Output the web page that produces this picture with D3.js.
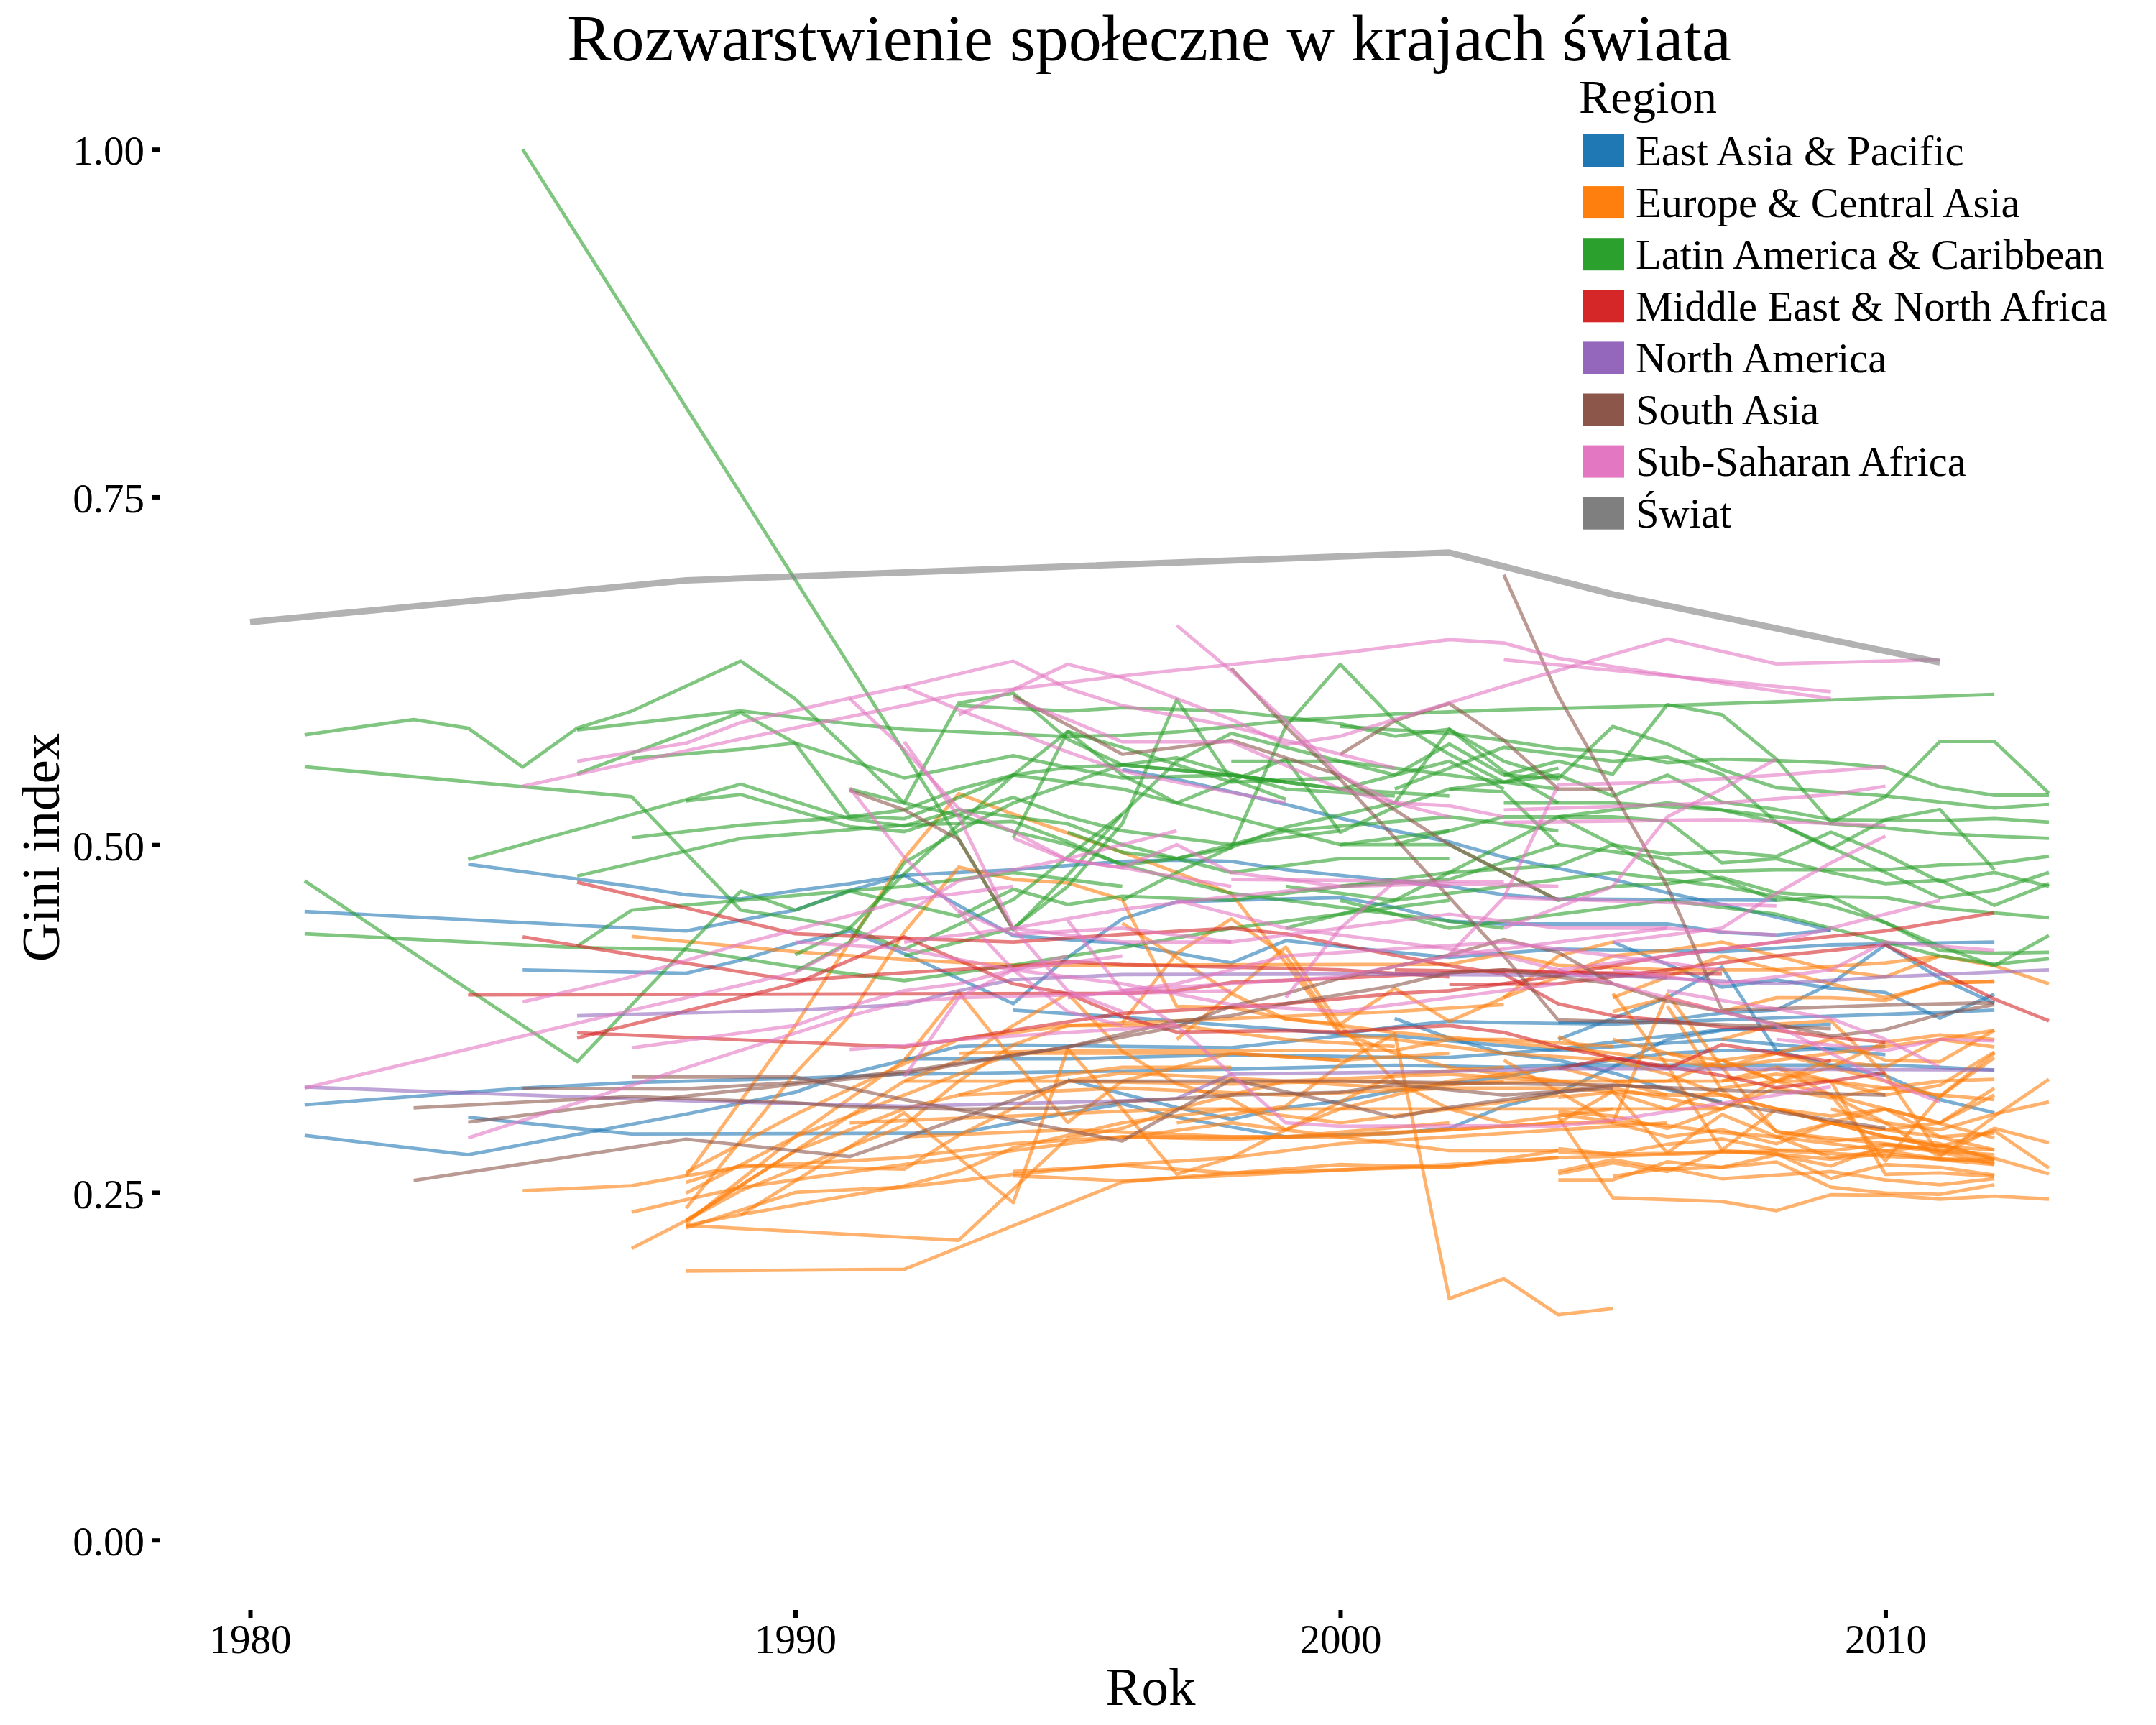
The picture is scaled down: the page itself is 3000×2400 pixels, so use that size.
<!DOCTYPE html>
<html><head><meta charset="utf-8">
<script src="https://cdnjs.cloudflare.com/ajax/libs/d3/7.8.5/d3.min.js"></script>
<style>html,body{margin:0;padding:0;background:#fff}svg{display:block}text{font-family:"Liberation Serif",serif;fill:#000}</style>
</head><body><svg id="c" width="3000" height="2400"></svg>
<script>
const regionNames=["East Asia & Pacific","Europe & Central Asia","Latin America & Caribbean","Middle East & North Africa","North America","South Asia","Sub-Saharan Africa","Świat"];
const regionColors=["#1f77b4","#ff7f0e","#2ca02c","#d62728","#9467bd","#8c564b","#e377c2","#7f7f7f"];
const xTicks=[1980,1990,2000,2010];
const yTicks=[0,.25,.5,.75,1];
// each series: year, value, year, value ...
const eastAsia=[
[1984,.486,1987,.47,1988,.464,1989,.461,1990,.467,1991,.472,1992,.478,1993,.48,1994,.482,1995,.485,1996,.488,1997,.489,1998,.488,1999,.482,2000,.478,2001,.474,2002,.47,2003,.464,2004,.461,2008,.46],
[1981,.452,1988,.438,1989,.4457,1990,.453,1991,.467,1992,.478,1994,.4346,1996,.429,1998,.415,1999,.431,2001,.4226,2002,.419,2004,.425,2007,.423,2009,.428,2012,.43],
[1985,.41,1988,.4075,1989,.417,1990,.429,1991,.438,1992,.4217,1994,.3857,1995,.419,1996,.4466,1997,.459,1998,.46,1999,.461,2000,.462,2001,.455,2002,.445,2003,.443,2006,.443,2007,.437,2008,.435,2009,.4385],
[1994,.381,1996,.376,1997,.373,1999,.367,2000,.364,2001,.369,2002,.373,2003,.372,2005,.371,2008,.3755,2010,.378,2012,.381],
[1981,.291,1984,.277,1988,.3063,1990,.322,1991,.3356,1992,.345,1993,.355,1994,.356,1996,.355,1998,.354,2000,.3626,2001,.3626,2004,.352,2007,.36,2010,.349],
[1981,.313,1985,.325,1987,.329,1990,.332,1992,.335,1995,.3367,1998,.3386,2001,.3414,2003,.34,2004,.3415,2010,.3415,2011,.34,2012,.338],
[1992,.346,1995,.346,1998,.349,2001,.347,2002,.347,2004,.353,2005,.358,2007,.367,2008,.369],
[1984,.304,1987,.292,1993,.2926,1994,.30,1995,.307,1996,.3137,1997,.304,1998,.297,1999,.29,2001,.2925,2002,.296,2003,.312,2004,.322,2005,.34,2006,.36,2007,.3666,2009,.371],
[1995,.331,1996,.321,1997,.311,1998,.3026,1999,.311,2000,.3155,2001,.323,2002,.3284,2003,.333,2004,.34,2005,.345,2006,.35,2007,.352,2008,.352,2010,.355],
[2001,.375,2002,.361,2003,.35,2004,.345,2005,.336,2006,.324,2007,.315],
[2004,.36,2005,.375,2006,.39,2007,.412,2008,.352,2009,.341,2010,.334,2011,.3167,2012,.3072],
[2004,.372,2006,.374,2007,.379,2008,.381,2009,.40,2010,.428,2011,.404,2012,.386],
[2005,.43,2006,.414,2007,.3976,2008,.4028,2009,.3968,2010,.3937,2011,.3753,2012,.3925],
[1996,.554,1997,.547,1999,.529,2000,.519,2001,.51,2002,.502,2003,.491,2004,.483,2005,.475,2006,.4654,2007,.457,2008,.448,2009,.4385]
];
const europe=[
[1988,.1935,1992,.1947,1996,.2574,1998,.264,2002,.2685,2004,.275,2005,.276,2008,.28,2012,.272],
[1988,.2262,1993,.2156,1995,.289,1996,.296,1997,.31,1999,.33,2001,.325,2003,.33],
[1988,.2262,1989,.234,1992,.2547,1993,.265,1994,.282,1996,.30,1998,.31,2000,.30,2002,.31,2004,.32],
[1988,.2245,1990,.25,1992,.2538,1994,.263,1996,.27,1998,.275,2000,.285,2002,.29,2004,.295,2006,.30],
[1989,.2337,1992,.3072,1994,.2426,1995,.353,1996,.31,1997,.263,1998,.275,1999,.295,2000,.315,2001,.335,2003,.34],
[1988,.2297,1989,.2512,1992,.298,1993,.33,1994,.356,1995,.37,1997,.37,1999,.36,2001,.355],
[1988,.2495,1990,.29,1992,.32,1994,.35,1996,.35,1998,.35,2000,.345,2002,.35],
[1988,.2572,1989,.2693,1992,.2667,1993,.291,1995,.33,1996,.336,1999,.33,2002,.335,2004,.33],
[1988,.2642,1990,.306,1992,.3425,1993,.36,1995,.37,1998,.375,2001,.38,2003,.385],
[1985,.2512,1987,.2548,1988,.2619,1989,.2684,1992,.275,1994,.285,1996,.29,1998,.288,2002,.295,2004,.30],
[1987,.2358,1988,.2447,1989,.2535,1992,.27,1994,.28,1996,.29,1999,.29,2002,.30],
[1987,.2097,1988,.2297,1990,.28,1992,.31,1994,.33,1996,.34,1998,.34],
[1988,.2616,1990,.37,1992,.49,1993,.5367,1994,.522,1995,.5083,1996,.4945,1997,.48,1998,.4648,1999,.415,2000,.3635,2001,.36,2003,.35,2005,.345],
[1988,.2387,1990,.3356,1991,.377,1992,.437,1993,.4839,1994,.475,1995,.4725,1996,.4605,1997,.3838,1998,.383,1999,.375,2000,.37,2001,.365,2003,.358,2005,.35],
[1987,.434,1990,.423,1992,.4174,1994,.4134,2002,.414,2003,.4216,2004,.4133,2006,.41,2008,.41,2010,.415,2011,.42,2012,.413,2013,.40],
[1988,.228,1990,.29,1992,.345,1993,.394,1994,.345,1995,.3003,1996,.33,1997,.34,1998,.35,2000,.345],
[1988,.23,1990,.28,1992,.33,1993,.345,1994,.37,1995,.393,1996,.3515,1997,.328,1998,.317,1999,.295,2000,.31,2002,.33,2004,.34],
[1996,.4435,1997,.419,1998,.393,1999,.3746,2000,.371,2001,.3967,2002,.373,2003,.39,2004,.42,2005,.43],
[1996,.372,1997,.422,1998,.4466,1999,.42,2000,.3653,2001,.35,2002,.34,2004,.33],
[1997,.36,1998,.393,1999,.4263,2000,.37,2001,.33,2002,.31,2003,.30,2005,.31],
[1997,.30,1999,.312,2000,.342,2001,.364,2002,.1736,2003,.188,2004,.162,2005,.1664],
[1993,.35,1995,.352,1998,.352,2001,.352,2002,.36,2003,.36,2005,.355],
[1992,.33,1995,.33,1998,.328,2000,.33,2002,.328,2004,.33,2006,.33],
[1993,.32,1996,.325,1999,.32,2002,.325,2004,.325,2006,.32],
[1991,.30,1994,.305,1997,.31,2000,.31,2003,.31,2005,.31,2007,.31],
[1992,.29,1995,.295,1998,.29,2000,.29,2002,.295,2004,.30,2005,.30],
[1996,.289,1998,.30,2000,.29,2002,.28,2003,.28,2004,.28],
[1994,.265,1996,.2694,1998,.2638,2000,.27,2002,.268,2004,.28],
[1994,.262,1996,.2583,2002,.27,2004,.275],
[2003,.39,2005,.42,2006,.424,2007,.43,2008,.42,2009,.41,2010,.405,2011,.42],
[2005,.39,2007,.42,2009,.40,2010,.39,2011,.40,2012,.402],
[2004,.362,2005,.345,2006,.335,2007,.32,2008,.31,2009,.30,2010,.29,2011,.285,2012,.2736],
[2004,.3184,2005,.322,2006,.3097,2007,.325,2008,.33,2009,.345,2010,.34,2011,.36,2012,.3666],
[2004,.308,2005,.305,2006,.296,2007,.31,2008,.33,2009,.32,2010,.31,2011,.29,2012,.2805],
[2004,.306,2005,.301,2006,.298,2007,.293,2008,.29,2009,.285,2010,.28,2011,.274,2012,.2736],
[2004,.2814,2005,.2775,2006,.2846,2007,.2885,2008,.2805,2009,.28,2010,.2845,2011,.2805,2012,.2736],
[2004,.2788,2005,.2775,2006,.278,2007,.2795,2008,.2775,2009,.2738,2010,.278,2011,.2736,2012,.27],
[2004,.265,2005,.2736,2006,.2667,2007,.268,2008,.277,2009,.269,2010,.284,2011,.279,2012,.2702],
[2004,.2633,2005,.2712,2006,.265,2007,.28,2008,.278,2009,.26,2010,.27,2011,.268,2012,.2625],
[2004,.259,2005,.259,2006,.272,2007,.268,2008,.2719,2009,.2538,2010,.2495,2011,.2486,2012,.2555],
[2005,.2615,2006,.2675,2007,.2598,2008,.2624,2009,.265,2010,.259,2011,.2555,2012,.2598],
[2004,.304,2005,.2461,2007,.2435,2008,.2369,2009,.2483,2010,.248,2011,.2452,2012,.2473,2013,.2452],
[2004,.30,2005,.3227,2006,.2785,2007,.306,2008,.29,2009,.30,2010,.31,2011,.30,2012,.32],
[2005,.30,2006,.3925,2007,.34,2008,.2934,2009,.289,2010,.285,2011,.28,2012,.277],
[2007,.36,2008,.371,2009,.3735,2010,.335,2011,.277,2012,.296,2013,.2857],
[2008,.34,2009,.32,2010,.2727,2011,.319,2012,.35],
[2005,.393,2006,.341,2007,.2805,2008,.31,2009,.30,2010,.295,2011,.30,2012,.3249],
[2006,.384,2007,.3236,2008,.294,2009,.287,2010,.29,2011,.283,2012,.2805],
[2007,.345,2008,.33,2009,.33,2010,.263,2011,.264,2012,.2616],
[2009,.31,2010,.30,2011,.2755,2012,.3047,2013,.3313],
[2009,.32,2010,.30,2011,.295,2012,.3063,2013,.315],
[2008,.31,2009,.30,2010,.29,2011,.283,2012,.2943,2013,.2676],
[2008,.29,2009,.275,2010,.28,2011,.284,2012,.2745,2013,.2633],
[2007,.33,2008,.34,2009,.33,2010,.32,2011,.327,2012,.351],
[2006,.35,2007,.34,2008,.35,2009,.36,2010,.345,2011,.344,2012,.3666],
[2006,.33,2007,.345,2008,.33,2009,.34,2010,.33,2011,.319,2012,.3468],
[2005,.36,2006,.35,2007,.345,2008,.35,2009,.34,2010,.358,2011,.3632,2012,.36],
[2005,.35,2006,.345,2007,.34,2008,.345,2009,.35,2010,.355,2011,.36,2012,.3546],
[2005,.38,2006,.39,2007,.38,2008,.39,2009,.39,2010,.388,2011,.401,2012,.4014],
[2005,.33,2007,.33,2008,.335,2009,.33,2010,.325,2011,.33,2012,.3313],
[2004,.33,2005,.325,2007,.31,2008,.325,2009,.318,2010,.325,2011,.32,2012,.3167],
[2004,.34,2005,.33,2006,.32,2007,.32,2008,.31,2009,.305,2010,.31,2012,.2891],
[2003,.345,2005,.30,2006,.29,2007,.295,2008,.285,2009,.30,2010,.295,2011,.29,2012,.2926]
];
const latin=[
[1981,.579,1983,.59,1984,.5838,1985,.5558,1986,.5838,1987,.596,1989,.632,1990,.6048,1992,.53,1993,.6017,1994,.609,1995,.5758,1996,.5574,1998,.55,1999,.545],
[1993,.60,1995,.596,1996,.5985,1998,.596,2000,.587,2001,.578,2002,.583,2003,.56,2004,.548],
[1986,.5825,1989,.5962,1991,.5869,1992,.583,1994,.5795,1995,.5777,1996,.5786,1997,.581,1999,.589,2001,.594,2003,.597,2006,.60,2012,.608],
[1986,.551,1989,.595,1990,.573,1991,.5204,1992,.5186,1993,.534,1994,.55,1995,.5555,1996,.5574,1998,.55,2000,.54,2002,.535],
[1987,.562,1989,.5685,1990,.573,1992,.548,1994,.564,1995,.5555,1996,.548,1998,.55,2000,.54,2002,.56,2003,.54],
[1984,.4894,1988,.5324,1989,.5435,1991,.5186,1992,.5135,1993,.525,1995,.515,1996,.50,1998,.48,2000,.49,2002,.49],
[1988,.5315,1989,.536,1991,.513,1992,.5094,1994,.534,1995,.52,1996,.51,1998,.50,2000,.51],
[1987,.505,1989,.514,1991,.52,1992,.525,1993,.54,1994,.55,1995,.545,1996,.54,1998,.52,2000,.50,2002,.51],
[1986,.4775,1989,.5045,1992,.514,1994,.5167,1995,.502,1996,.4854,1997,.49,1998,.50,1999,.51,2002,.52,2004,.51],
[1981,.556,1987,.5345,1989,.453,1990,.447,1991,.44,1992,.4248,1994,.4605,1996,.522,1997,.56,1998,.58,2000,.56,2002,.55,2004,.54],
[1981,.474,1986,.344,1989,.4666,1990,.453,1991,.4665,1992,.4577,1993,.4485,1994,.468,1995,.457,1996,.463,1998,.46,2000,.47,2002,.48],
[1981,.436,1986,.426,1988,.4247,1990,.412,1992,.4023,1994,.4134,1996,.426,1998,.44,2000,.45,2002,.46],
[1990,.4208,1991,.44,1992,.479,1994,.55,1995,.5813,1996,.57,1998,.545,2000,.548],
[1990,.4088,1991,.43,1992,.487,1993,.51,1994,.53,1996,.5574,1997,.5625,1999,.54,2001,.535],
[1986,.427,1987,.453,1989,.46,1991,.467,1992,.47,1994,.48,1996,.47],
[1991,.54,1992,.53,1993,.521,1994,.5094,1995,.50,1996,.486,1997,.475,1998,.465,1999,.46,2001,.45,2003,.44],
[1992,.42,1994,.44,1995,.47,1996,.515,1997,.6043,1998,.547,1999,.5326],
[1996,.46,1997,.48,1998,.498,1999,.585,2000,.6297,2001,.589,2002,.565,2003,.545,2004,.555],
[1994,.505,1995,.5815,1996,.55,1997,.53,1999,.5616,2000,.509,2001,.527,2002,.54,2003,.538,2004,.50],
[1995,.509,1996,.4945,1997,.49,1998,.498,1999,.5126,2001,.53,2002,.583,2003,.5525,2004,.53],
[1998,.56,2000,.56,2001,.55,2002,.5724,2003,.55,2004,.5475,2005,.585,2006,.5724,2007,.554,2008,.541,2010,.535,2011,.5307,2012,.5264,2013,.529],
[2003,.55,2004,.56,2005,.5507,2006,.6007,2007,.5935,2008,.5615,2009,.516,2010,.5344,2011,.5742,2012,.5742,2013,.537],
[2000,.585,2002,.58,2003,.575,2004,.569,2005,.567,2006,.559,2007,.5615,2008,.5605,2009,.559,2010,.5554,2011,.5416,2012,.5355,2013,.5355],
[2001,.54,2003,.57,2005,.56,2006,.563,2007,.5507,2008,.516,2009,.498,2010,.48,2011,.4618,2012,.4673,2013,.48],
[2002,.54,2004,.55,2005,.535,2006,.55,2007,.5307,2008,.5253,2009,.518,2011,.5173,2012,.5188,2013,.5162],
[2004,.52,2006,.53,2007,.525,2008,.516,2009,.497,2010,.518,2011,.5253,2012,.482],
[2003,.53,2005,.53,2007,.525,2009,.515,2010,.512,2011,.508,2012,.506,2013,.5046],
[1999,.47,2001,.46,2003,.50,2004,.52,2006,.48,2008,.482,2010,.482,2011,.4854,2012,.4865,2013,.4916],
[2002,.48,2004,.485,2005,.50,2006,.493,2007,.495,2008,.4916,2009,.509,2010,.493,2011,.4735,2012,.48,2013,.47],
[2001,.50,2003,.52,2005,.52,2006,.517,2007,.487,2008,.49,2009,.48,2010,.472,2011,.4745,2012,.4564,2013,.472],
[2000,.50,2002,.50,2004,.46,2005,.47,2006,.472,2007,.4764,2008,.4655,2009,.4626,2010,.462,2011,.4546,2012,.451,2013,.4474],
[2000,.47,2002,.475,2004,.50,2006,.49,2008,.46,2009,.4626,2010,.444,2011,.427,2012,.413,2013,.4347],
[1999,.44,2001,.46,2003,.47,2005,.48,2007,.47,2009,.456,2010,.444,2011,.4238,2012,.422,2013,.4227],
[2000,.46,2002,.44,2004,.45,2006,.46,2008,.45,2010,.43,2011,.42,2012,.414,2013,.418],
[1985,1,1992,.5666,1993,.5038,1994,.439,1995,.478,1996,.522]
];
const mena=[
[1984,.392,1995,.393,1996,.393,1997,.395,1998,.401,2000,.404,2003,.41,2006,.405],
[1985,.4337,1987,.421,1990,.4023,1992,.4079,1994,.4125,1995,.416,1996,.4138,1998,.412,2000,.41,2002,.405],
[1986,.473,1990,.436,1992,.4328,1994,.43,1995,.4328,1996,.4355,1998,.44,1999,.436,2000,.428,2002,.413,2003,.407,2004,.3856,2005,.377,2006,.3735,2007,.369,2008,.3666,2009,.3615,2010,.358],
[1986,.361,1990,.40,1992,.4337,1994,.40,1995,.393,1996,.3764,1997,.3653,1999,.3663,2000,.3653,2001,.368,2002,.37,2003,.365,2004,.3546,2005,.3468,2006,.339,2007,.3563,2008,.35,2009,.3442],
[1986,.3648,1992,.3546,1993,.36,1994,.3666,1996,.3787,1998,.383,1999,.3857,2001,.393,2002,.395,2003,.40,2004,.406,2006,.42,2008,.43,2010,.438,2012,.451],
[2002,.3995,2004,.40,2006,.41,2008,.42,2010,.428,2012,.389,2013,.3734],
[2001,.41,2004,.408,2007,.407],
[2004,.339,2005,.3468,2007,.334,2008,.3253,2009,.33,2010,.336]
];
const northAmerica=[
[1981,.3257,1988,.3159,1992,.3119,1996,.3158,1997,.3174,1998,.335,2002,.337,2004,.339,2012,.338],
[1986,.377,1990,.381,1992,.385,1993,.395,1994,.403,1996,.4066,2000,.407,2005,.406,2008,.40,2010,.405,2013,.41]
];
const southAsia=[
[1983,.2586,1988,.2883,1991,.2757,1995,.33,1996,.33,2000,.33,2005,.327,2007,.3236,2009,.321,2010,.32],
[1983,.3108,1987,.3189,1990,.3144,1991,.3115,1993,.3098,1995,.3106,1996,.3153,1997,.3174,1998,.32,2000,.322,2001,.3275,2003,.32,2005,.325],
[1987,.333,1990,.333,1992,.3167,1994,.302,1996,.287,1998,.331,2000,.3137,2001,.304,2002,.311,2004,.322,2005,.327,2006,.325,2007,.314,2008,.308,2009,.302,2010,.296],
[1984,.3005,1987,.315,1990,.3277,1992,.3356,1995,.3546,1996,.3616,1997,.369,1998,.384,1999,.393,2000,.404,2001,.4124,2002,.4207,2003,.4318,2004,.4226,2005,.40,2006,.3875,2007,.38,2008,.371,2009,.3625,2010,.367,2011,.378,2012,.385],
[1985,.3248,1988,.3244,1990,.329,1992,.337,1995,.3546,1997,.373,1998,.377,1999,.3857,2001,.3986,2002,.408,2003,.41,2004,.405,2005,.40],
[1998,.6268,1999,.585,2000,.547,2001,.505,2002,.462,2003,.42,2004,.3739,2006,.372,2009,.3678],
[2003,.694,2004,.607,2005,.538,2006,.47,2007,.3813,2008,.3821,2010,.3847,2012,.3864],
[1991,.539,1992,.525,1993,.5038,1994,.439],
[1994,.607,1996,.565,1998,.575,2000,.55,2002,.50,2004,.46],
[2000,.565,2001,.589,2002,.6015,2003,.575,2004,.54,2005,.54]
];
const africa=[
[1981,.325,1987,.381,1990,.408,1992,.45,1993,.474,1995,.49,1997,.51],
[1985,.387,1987,.405,1989,.4286,1991,.449,1992,.46,1994,.47],
[1984,.2892,1988,.3396,1991,.377,1992,.387,1993,.39,1995,.392,1998,.395],
[1987,.3539,1990,.37,1991,.384,1992,.395,1993,.40,1994,.41,1996,.42],
[1991,.3528,1992,.3557,1993,.36,1995,.365,1997,.37],
[1992,.333,1993,.39,1994,.41,1995,.42],
[1986,.56,1988,.573,1989,.5878,1991,.6053,1992,.6136,1994,.632,1995,.6123,1996,.60,1998,.585,2000,.565,2001,.555],
[1985,.542,1989,.576,1992,.60,1993,.608,1994,.6118,1996,.6214,2000,.6377,2002,.6475,2003,.645,2004,.634,2007,.616,2009,.605],
[2003,.633,2009,.61],
[1993,.5934,1995,.6297,1996,.62,1998,.59,1999,.572,2000,.578,2003,.614,2006,.648,2008,.63,2011,.633],
[1997,.6576,1998,.625,1999,.589,2000,.55,2001,.53,2002,.528,2003,.52],
[1992,.6136,1993,.597,1995,.5666,1996,.553,1997,.545,1999,.53],
[1991,.605,1992,.5684,1993,.526,1994,.5094,1995,.489,1996,.4835,1998,.47],
[1992,.574,1993,.52,1994,.44,1995,.395,1996,.38],
[1991,.5408,1992,.491,1993,.452,1994,.41,1995,.38,1996,.37],
[1994,.6044,1995,.59,1996,.574,1998,.574,2000,.54,2002,.52],
[1994,.5047,1995,.489,1996,.4835,1997,.50,1998,.48,2000,.47],
[1993,.4525,1994,.4355,1996,.44,1998,.43],
[1998,.475,2003,.4733],
[2002,.421,2003,.462,2004,.543,2006,.545,2008,.55,2010,.556],
[2003,.525,2007,.53,2009,.536,2010,.542],
[2003,.516,2007,.518,2010,.5137],
[2003,.44,2005,.47,2006,.52,2007,.54,2008,.5615],
[2005,.43,2007,.44,2008,.465,2009,.487,2010,.5061],
[2004,.41,2006,.42,2008,.43,2009,.44,2010,.45,2011,.46],
[2003,.462,2008,.456],
[2005,.41,2007,.40,2009,.41,2010,.43,2012,.424],
[2006,.395,2007,.388,2008,.382,2009,.375,2010,.36,2011,.34],
[2005,.40,2007,.38,2008,.37,2009,.35,2010,.33,2011,.315],
[2008,.36,2010,.352,2011,.36,2012,.359],
[1995,.4456,1996,.395,1997,.37,1998,.335,1999,.30,2000,.2976,2003,.298,2004,.2977,2005,.302,2006,.308,2007,.314,2008,.32,2009,.326],
[1999,.39,2000,.44,2001,.4733,2002,.47],
[1992,.43,1994,.44,1996,.4535,1998,.463,2000,.47,2002,.472,2004,.47],
[1997,.46,1999,.44,2001,.43,2003,.42,2005,.40],
[1994,.44,1996,.43,1998,.43,2000,.44,2002,.45,2004,.44,2006,.44],
[1996,.395,1998,.40,2000,.405,2002,.42,2004,.43,2006,.44,2008,.435],
[1990,.43,1992,.425,1994,.41,1996,.40,1998,.385,2000,.38,2002,.39,2004,.40],
[1995,.39,1997,.40,1999,.42,2001,.425,2003,.43,2005,.42,2007,.41]
];
const world=[[1980,.66,1988,.69,2002,.71,2005,.68,2011,.631]];
const regionSeries=[eastAsia,europe,latin,mena,northAmerica,southAsia,africa,world];

const svg=d3.select("#c");
const x=d3.scaleLinear([1980,2013],[348,2851]);
const y=d3.scaleLinear([0,1],[2142.7,207.7]);
const line=d3.line().x(d=>x(d[0])).y(d=>y(d[1]));
const pairs=s=>d3.range(0,s.length,2).map(i=>[s[i],s[i+1]]);
regionSeries.forEach((group,i)=>{
  svg.append("g").selectAll("path").data(group).join("path")
    .attr("d",s=>line(pairs(s))).attr("fill","none")
    .attr("stroke",regionColors[i]).attr("stroke-opacity",.6)
    .attr("stroke-width",i===7?9:4.8).attr("stroke-linejoin","round");
});
const gy=svg.append("g").attr("transform","translate(223,0)")
  .call(d3.axisLeft(y).tickValues(yTicks).tickFormat(d3.format(".2f")).tickSize(12).tickPadding(10));
const gx=svg.append("g").attr("transform","translate(0,2240)")
  .call(d3.axisBottom(x).tickValues(xTicks).tickFormat(d3.format("d")).tickSize(11).tickPadding(9));
[gx,gy].forEach(g=>{g.select(".domain").remove();
  g.selectAll(".tick line").attr("stroke","#000").attr("stroke-width",6);
  g.selectAll("text").attr("font-size",57).attr("font-family","Liberation Serif").attr("fill","#000");});
gy.selectAll("text").attr("dy","0.37em");
svg.append("text").attr("x",1599).attr("y",84).attr("text-anchor","middle").attr("font-size",92).text("Rozwarstwienie społeczne w krajach świata");
svg.append("text").attr("x",1601).attr("y",2372).attr("text-anchor","middle").attr("font-size",75).text("Rok");
svg.append("text").attr("transform","translate(82,1179) rotate(-90)").attr("text-anchor","middle").attr("font-size",75).text("Gini index");
svg.append("text").attr("x",2197).attr("y",157).attr("font-size",66.5).text("Region");
const lg=svg.append("g").selectAll("g").data(regionNames).join("g").attr("transform",(d,i)=>`translate(2202,${187+i*72.1})`);
lg.append("rect").attr("width",58).attr("height",45).attr("fill",(d,i)=>regionColors[i]);
lg.append("text").attr("x",74).attr("y",42.5).attr("font-size",58.5).text(d=>d);
</script></body></html>
